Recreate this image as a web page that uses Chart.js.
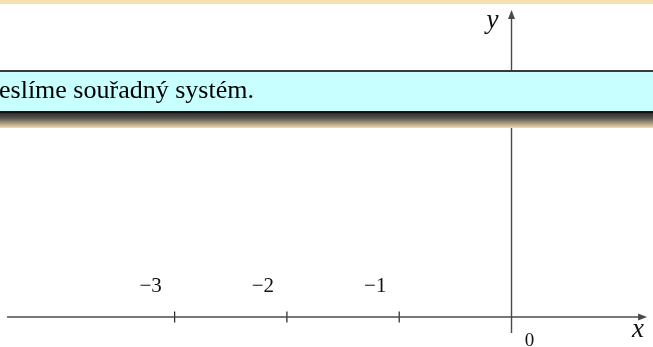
<!DOCTYPE html>
<html>
<head>
<meta charset="utf-8">
<script src="https://cdn.jsdelivr.net/npm/chart.js@4.4.0/dist/chart.umd.min.js"></script>
<style>
  html, body { margin: 0; padding: 0; background: #fff; }
  #c { display: block; }
</style>
</head>
<body>
<canvas id="c" width="653" height="347"></canvas>
<script>
// visible window (one unit = ~112 px on both axes)
const xView = [-4.555, 1.26];
const yView = [-0.267, 2.823];

// axis lines
const xAxisEnds = [-4.492, 1.207];
const yAxisEnds = [-0.1425, 2.734];

// ticks on the x axis
const tickValues = [-3, -2, -1];
const tickLabels = ['−3', '−2', '−1'];
const originLabel = '0';

const caption = 'eslíme souřadný systém.';

const axisColor = '#4a4a4a';

// labels, arrowheads and the caption box
const overlay = {
  id: 'overlay',
  afterDatasetsDraw(chart) {
    const c = chart.ctx;
    const xs = chart.scales.x, ys = chart.scales.y;
    const W = chart.width;

    c.save();
    c.fillStyle = axisColor;
    // arrow on x
    let tx = xs.getPixelForValue(xAxisEnds[1]), ty = ys.getPixelForValue(0);
    c.beginPath();
    c.moveTo(tx, ty);
    c.lineTo(tx - 9, ty - 3.5);
    c.lineTo(tx - 9, ty + 3.5);
    c.closePath();
    c.fill();
    // arrow on y
    tx = xs.getPixelForValue(0); ty = ys.getPixelForValue(yAxisEnds[1]);
    c.beginPath();
    c.moveTo(tx, ty);
    c.lineTo(tx - 3.5, ty + 9);
    c.lineTo(tx + 3.5, ty + 9);
    c.closePath();
    c.fill();

    // tick labels
    c.fillStyle = '#111';
    c.font = '21px "Liberation Serif", serif';
    c.textAlign = 'center';
    c.textBaseline = 'middle';
    tickValues.forEach((v, i) => {
      c.fillText(tickLabels[i], xs.getPixelForValue(v) - 24, ys.getPixelForValue(0) - 31);
    });
    c.font = '19px "Liberation Serif", serif';
    c.fillText(originLabel, xs.getPixelForValue(0) + 18, ys.getPixelForValue(0) + 24);

    // axis names
    c.font = 'italic 27px "Liberation Serif", serif';
    c.fillText('x', xs.getPixelForValue(xAxisEnds[1]) - 9, ys.getPixelForValue(0) + 13);
    c.fillText('y', xs.getPixelForValue(0) - 19, ys.getPixelForValue(yAxisEnds[1]) + 11);

    // top band
    c.fillStyle = '#f6dfb1';
    c.fillRect(0, 0, W, 4);

    // caption box with shadow
    const g = c.createLinearGradient(0, 113, 0, 128);
    g.addColorStop(0, '#2f2f2f');
    g.addColorStop(0.35, '#5a5650');
    g.addColorStop(1, '#f2dcae');
    c.fillStyle = g;
    c.fillRect(0, 113, W, 15);

    c.fillStyle = '#c8ffff';
    c.fillRect(0, 70, W, 43);
    c.fillStyle = '#3a3a3a';
    c.fillRect(0, 70, W, 2);
    c.fillStyle = '#111';
    c.fillRect(0, 111, W, 2);

    c.fillStyle = '#000';
    c.font = '26px "Liberation Serif", serif';
    c.textAlign = 'left';
    c.textBaseline = 'alphabetic';
    c.fillText(caption, -1, 98);
    c.restore();
  }
};

new Chart(document.getElementById('c').getContext('2d'), {
  type: 'scatter',
  data: {
    datasets: [
      {
        data: [{ x: xAxisEnds[0], y: 0 }, { x: xAxisEnds[1] - 0.03, y: 0 }],
        showLine: true, borderColor: axisColor, borderWidth: 1.4, pointRadius: 0
      },
      {
        data: [{ x: 0, y: yAxisEnds[0] }, { x: 0, y: yAxisEnds[1] - 0.03 }],
        showLine: true, borderColor: axisColor, borderWidth: 1.4, pointRadius: 0
      },
      {
        data: tickValues.map(v => ({ x: v, y: 0 })),
        pointStyle: 'line', rotation: 90, pointRadius: 5.5,
        borderColor: '#222', borderWidth: 1.2
      }
    ]
  },
  options: {
    responsive: false,
    animation: false,
    events: [],
    layout: { padding: 0, autoPadding: false },
    plugins: { legend: { display: false }, tooltip: { enabled: false } },
    scales: {
      x: { type: 'linear', min: xView[0], max: xView[1], display: false },
      y: { type: 'linear', min: yView[0], max: yView[1], display: false }
    }
  },
  plugins: [overlay]
});
</script>
</body>
</html>
